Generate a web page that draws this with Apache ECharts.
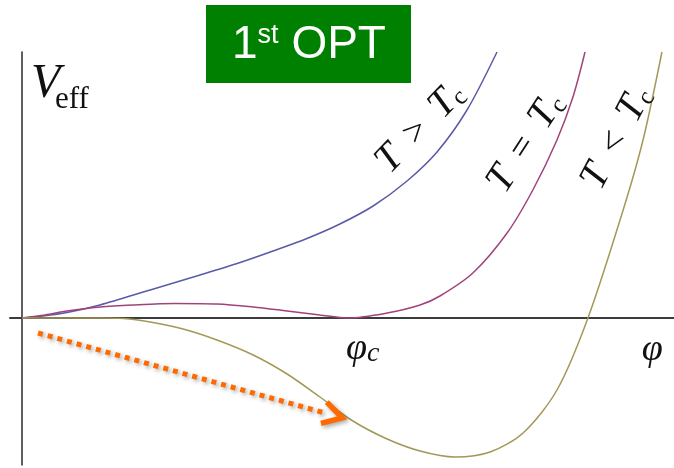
<!DOCTYPE html>
<html>
<head>
<meta charset="utf-8">
<script src="https://cdn.jsdelivr.net/npm/echarts@6/dist/echarts.min.js"></script>
<style>
  html, body { margin: 0; padding: 0; background: #fff; }
  #chart { width: 674px; height: 468px; }
</style>
</head>
<body>
<div id="chart"></div>
<script>
// Effective potential V_eff(φ) near a first-order phase transition,
// sampled for three temperatures (φ in units of φc, V in arbitrary units).
const phiAbove = [0, 0.064, 0.138, 0.239, 0.393, 0.546, 0.669, 0.770, 0.874, 0.975, 1.077, 1.181, 1.273, 1.365, 1.457];
const vAbove   = [0, 0.02, 0.055, 0.13, 0.28, 0.43, 0.555, 0.67, 0.795, 0.94, 1.12, 1.37, 1.66, 2.08, 2.66];

const phiCrit = [0, 0.071, 0.138, 0.239, 0.340, 0.469, 0.598, 0.709, 0.813, 0.914, 1.0, 1.120, 1.221, 1.282, 1.383, 1.488, 1.567, 1.641, 1.690, 1.727];
const vCrit   = [0, 0.03, 0.07, 0.11, 0.13, 0.145, 0.14, 0.11, 0.07, 0.03, 0, 0.05, 0.13, 0.22, 0.45, 0.85, 1.28, 1.78, 2.21, 2.66];

const phiBelow = [0, 0.117, 0.239, 0.310, 0.393, 0.494, 0.598, 0.709, 0.813, 0.914, 1.015, 1.120, 1.221, 1.328, 1.436, 1.537, 1.641, 1.736, 1.844, 1.905, 1.963];
const vBelow   = [0, 0, 0, -0.005, -0.04, -0.11, -0.22, -0.37, -0.56, -0.79, -1.03, -1.21, -1.33, -1.39, -1.34, -1.15, -0.72, 0, 1.08, 1.78, 2.66];

const seriesNames = ['T > Tc', 'T = Tc', 'T < Tc'];
const phiCritical = 1;

const pairs = (xs, ys) => xs.map((x, i) => [x, ys[i]]);

const serif = "'Liberation Serif', 'DejaVu Serif', serif";
const sans = "'Liberation Sans', Arial, sans-serif";
const colors = ['#5a5aa8', '#a0437a', '#a39858'];
const ink = '#111';

const chart = echarts.init(document.getElementById('chart'), null, { renderer: 'canvas' });

chart.setOption({
  animation: false,
  backgroundColor: '#ffffff',
  grid: { left: 10, right: 0, top: 52, bottom: 3, containLabel: false },
  xAxis: {
    type: 'value', min: -0.037, max: 2.0,
    axisLine: { show: true, onZero: true, lineStyle: { color: '#3c3c3c', width: 2 } },
    axisTick: { show: false }, axisLabel: { show: false }, splitLine: { show: false }
  },
  yAxis: {
    type: 'value', min: -1.47, max: 2.66,
    axisLine: { show: true, onZero: true, lineStyle: { color: '#2a2a2a', width: 1.5 } },
    axisTick: { show: false }, axisLabel: { show: false }, splitLine: { show: false }
  },
  series: [
    { name: seriesNames[0], type: 'line', data: pairs(phiAbove, vAbove), smooth: 0.3, showSymbol: false,
      lineStyle: { color: colors[0], width: 1.5 }, z: 3 },
    { name: seriesNames[1], type: 'line', data: pairs(phiCrit, vCrit), smooth: 0.3, showSymbol: false,
      lineStyle: { color: colors[1], width: 1.5 }, z: 3 },
    { name: seriesNames[2], type: 'line', data: pairs(phiBelow, vBelow), smooth: 0.3, showSymbol: false,
      lineStyle: { color: colors[2], width: 1.5 }, z: 3 }
  ]
});

const px = p => chart.convertToPixel({ gridIndex: 0 }, p);
const gap = '\u00a0\u2009';

// Rotated temperature labels running along each curve
function curveLabel(rel, at, deg) {
  const p = px(at);
  return {
    type: 'text', x: p[0], y: p[1], rotation: deg * Math.PI / 180, z: 10,
    style: {
      text: '{t|T}{o|' + gap + rel + gap + '}{t|T}{s|c}',
      align: 'center', verticalAlign: 'middle', fill: ink,
      rich: {
        t: { fontFamily: serif, fontStyle: 'italic', fontSize: 40, fill: ink },
        o: { fontFamily: serif, fontSize: 37, fill: ink },
        s: { fontFamily: serif, fontSize: 25, fill: ink, verticalAlign: 'bottom' }
      }
    }
  };
}

// Dotted arrow showing the field rolling toward the new minimum
const arrowStart = px([0.049, -0.15]);
const arrowEnd = px([0.929, -0.95]);
const dx = arrowEnd[0] - arrowStart[0], dy = arrowEnd[1] - arrowStart[1];
const len = Math.hypot(dx, dy), ux = dx / len, uy = dy / len;
const tip = [arrowEnd[0] + ux * 18, arrowEnd[1] + uy * 18];
const arm = (ang) => {
  const c = Math.cos(ang), s = Math.sin(ang);
  const bx = -(ux * c - uy * s), by = -(ux * s + uy * c);
  return [tip[0] + bx * 22, tip[1] + by * 22];
};
const shadow = { shadowBlur: 4, shadowColor: 'rgba(0,0,0,0.35)', shadowOffsetX: 2, shadowOffsetY: 2 };

const yTop = px([0, 2.66]);
const phiC = px([phiCritical + 0.045, -0.31]);
const phiEnd = px([1.933, -0.32]);

chart.setOption({
  graphic: [
    // title badge
    { type: 'rect', shape: { x: 206, y: 5, width: 205, height: 78 }, style: { fill: '#008000' }, z: 10 },
    { type: 'text', x: 309, y: 45, z: 11,
      style: {
        text: '{a|1}{b|st}{a|\u00a0OPT}', align: 'center', verticalAlign: 'middle', fill: '#fff',
        rich: {
          a: { fontFamily: sans, fontSize: 46, fill: '#fff' },
          b: { fontFamily: sans, fontSize: 27, fill: '#fff', verticalAlign: 'top' }
        }
      }
    },
    // axis names
    { type: 'text', x: yTop[0] + 9, y: yTop[1] + 56, z: 10,
      style: { text: 'V', align: 'left', verticalAlign: 'bottom', fill: ink,
               font: 'italic 48px ' + serif } },
    { type: 'text', x: yTop[0] + 33, y: yTop[1] + 63, z: 10,
      style: { text: 'eff', align: 'left', verticalAlign: 'bottom', fill: ink,
               font: '31px ' + serif } },
    { type: 'text', x: phiC[0], y: phiC[1], z: 10,
      style: {
        text: '{p|\u03c6}{s|c}', align: 'center', verticalAlign: 'middle', fill: ink,
        rich: {
          p: { fontFamily: serif, fontStyle: 'italic', fontSize: 38, fill: ink },
          s: { fontFamily: serif, fontStyle: 'italic', fontSize: 28, fill: ink, verticalAlign: 'bottom' }
        }
      }
    },
    { type: 'text', x: phiEnd[0], y: phiEnd[1], z: 10,
      style: { text: '\u03c6', align: 'center', verticalAlign: 'middle', fill: ink,
               font: 'italic 38px ' + serif } },
    curveLabel('>', [1.222, 1.90], 46),
    curveLabel('=', [1.546, 1.75], 57),
    curveLabel('<', [1.825, 1.80], 62),
    // arrow
    { type: 'line', z: 12,
      shape: { x1: arrowStart[0], y1: arrowStart[1], x2: arrowEnd[0], y2: arrowEnd[1] },
      style: Object.assign({ stroke: '#ff6a00', lineWidth: 5, lineDash: [5, 5], lineCap: 'butt' }, shadow) },
    { type: 'polyline', z: 12,
      shape: { points: [arm(Math.PI / 6), tip, arm(-Math.PI / 6)] },
      style: Object.assign({ stroke: '#ff6a00', fill: null, lineWidth: 5.5, lineJoin: 'miter', lineCap: 'butt' }, shadow) }
  ]
});
</script>
</body>
</html>
